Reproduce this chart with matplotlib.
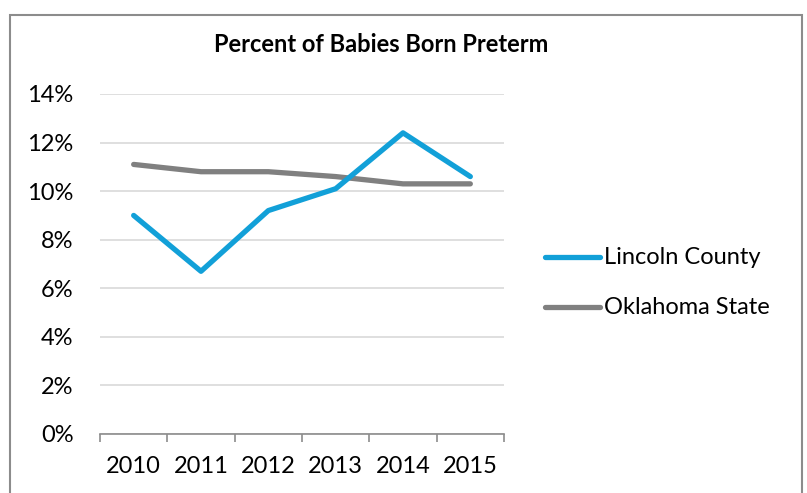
import matplotlib.pyplot as plt
from matplotlib.patches import Rectangle
from matplotlib.lines import Line2D

# data
years = ['2010', '2011', '2012', '2013', '2014', '2015']
lincoln = [9.0, 6.7, 9.2, 10.1, 12.4, 10.6]
oklahoma = [11.1, 10.8, 10.8, 10.6, 10.3, 10.3]
yticks = [0, 2, 4, 6, 8, 10, 12, 14]

blue = '#12a0d8'
gray = '#808080'

plt.rcParams['font.family'] = ['Lato', 'DejaVu Sans']

W, H = 807, 493
fig = plt.figure(figsize=(W / 100, H / 100), dpi=100)

# outer chart border (bottom edge is cut off in the original)
fig.patches.append(Rectangle((10 / W, -0.05), 792 / W, 1.05 - 15 / H,
                             transform=fig.transFigure, fill=False,
                             edgecolor='#8c8c8c', lw=1.5))

ax = fig.add_axes([100 / W, 1 - 434 / H, 404 / W, 340 / H])
x = list(range(len(years)))
ax.plot(x, oklahoma, color=gray, lw=3.8, solid_capstyle='round', zorder=3)
ax.plot(x, lincoln, color=blue, lw=3.8, solid_capstyle='round', zorder=4)

ax.set_xlim(-0.5, len(years) - 0.5)
ax.set_ylim(0, 14)
ax.set_yticks(yticks)
ax.set_yticklabels([f'{v}%' for v in yticks], fontsize=17)
ax.yaxis.grid(True, color='#d9d9d9', lw=1.2)
ax.set_axisbelow(True)
ax.tick_params(axis='y', length=0, pad=19)

# category labels at centres, tick marks at the boundaries
ax.set_xticks(x)
ax.set_xticklabels(years, fontsize=17)
ax.set_xticks([i - 0.5 for i in range(len(years) + 1)], minor=True)
ax.tick_params(axis='x', which='major', length=0, pad=16)
ax.tick_params(axis='x', which='minor', length=6, color='#8c8c8c', width=1.2)

for side in ['top', 'right', 'left']:
    ax.spines[side].set_visible(False)
ax.spines['bottom'].set_color('#8c8c8c')
ax.spines['bottom'].set_linewidth(1.2)

fig.text(381 / W, 1 - 45 / H, 'Percent of Babies Born Preterm',
         ha='center', va='center', fontsize=17, fontweight='bold')

# legend drawn by hand to match placement
for yy, col, lab in [(257, blue, 'Lincoln County'), (307, gray, 'Oklahoma State')]:
    fig.lines.append(Line2D([545 / W, 600 / W], [1 - yy / H, 1 - yy / H],
                            transform=fig.transFigure, color=col, lw=3.8,
                            solid_capstyle='round'))
    fig.text(604 / W, 1 - yy / H, lab, ha='left', va='center', fontsize=17)

fig.savefig('out.png', dpi=100)
